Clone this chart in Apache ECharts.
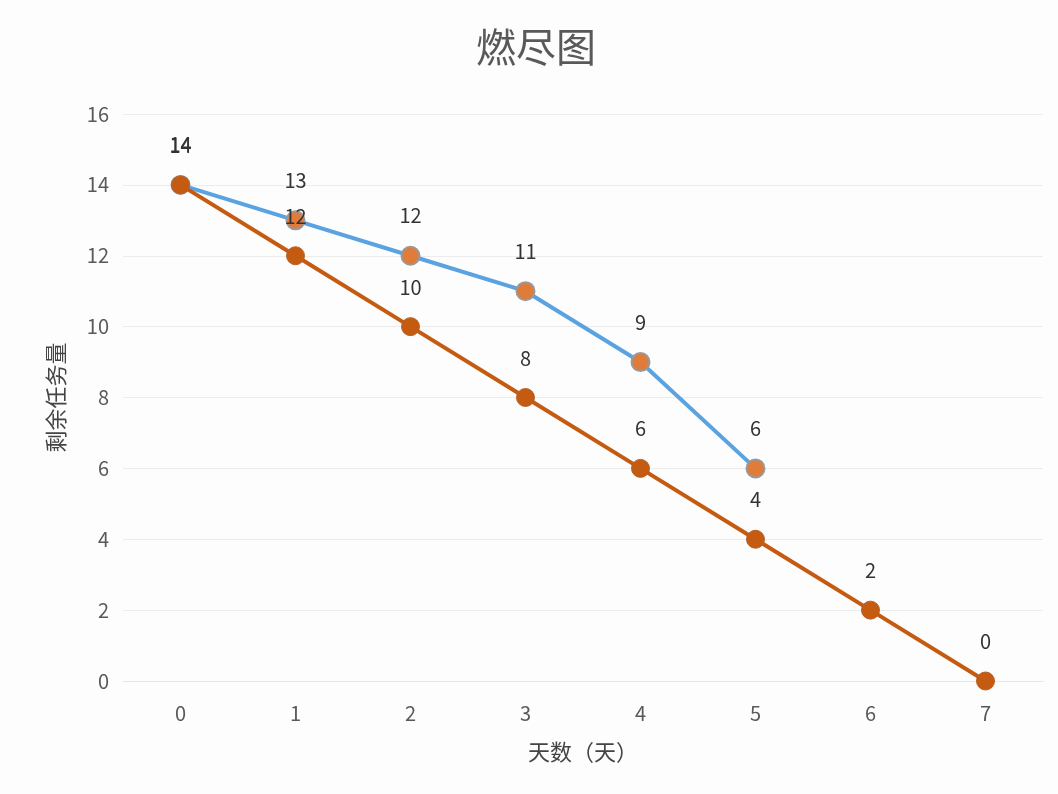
<!DOCTYPE html>
<html>
<head>
<meta charset="utf-8">
<script src="https://cdn.jsdelivr.net/npm/echarts@6/dist/echarts.min.js"></script>
<style>
html, body { margin: 0; padding: 0; background: #fdfdfd; }
#main { width: 1058px; height: 794px; }
</style>
</head>
<body>
<div id="main"></div>
<script>
var days = ['0', '1', '2', '3', '4', '5', '6', '7'];
var actual = [14, 13, 12, 11, 9, 6];
var ideal = [14, 12, 10, 8, 6, 4, 2, 0];
var yTicks = [0, 2, 4, 6, 8, 10, 12, 14, 16];

var chart = echarts.init(document.getElementById('main'));
var labelStyle = {
  show: true,
  position: 'top',
  distance: 20,
  color: '#333',
  fontSize: 20,
  fontFamily: 'Noto Sans CJK SC'
};
chart.setOption({
  backgroundColor: '#fdfdfd',
  title: {
    text: '燃尽图',
    left: 471,
    top: 22,
    textStyle: { fontSize: 40, fontWeight: 'normal', color: '#595959', fontFamily: 'Noto Sans CJK SC' }
  },
  grid: { left: 123, right: 15, top: 114, bottom: 113 },
  xAxis: {
    type: 'category',
    data: days,
    name: '天数（天）',
    nameLocation: 'middle',
    nameGap: 60,
    nameTextStyle: { fontSize: 22, color: '#444', fontFamily: 'Noto Sans CJK SC' },
    axisLine: { lineStyle: { color: '#e6e6e6' } },
    axisTick: { show: false },
    axisLabel: { fontSize: 20, color: '#595959', margin: 22, fontFamily: 'Noto Sans CJK SC' }
  },
  yAxis: {
    type: 'value',
    min: yTicks[0],
    max: yTicks[yTicks.length - 1],
    interval: 2,
    name: '剩余任务量',
    nameLocation: 'middle',
    nameGap: 56,
    nameRotate: 90,
    nameTextStyle: { fontSize: 22, color: '#444', fontFamily: 'Noto Sans CJK SC' },
    axisLine: { show: false },
    axisTick: { show: false },
    axisLabel: { fontSize: 20, color: '#595959', margin: 14, fontFamily: 'Noto Sans CJK SC' },
    splitLine: { lineStyle: { color: '#ececec' } }
  },
  series: [
    {
      name: '实际',
      type: 'line',
      data: actual,
      symbol: 'circle',
      symbolSize: 18,
      lineStyle: { color: '#5ba3e0', width: 4 },
      itemStyle: { color: '#e07b39', borderColor: '#999', borderWidth: 2 },
      label: labelStyle,
      z: 2
    },
    {
      name: '理想',
      type: 'line',
      data: ideal,
      symbol: 'circle',
      symbolSize: 18,
      lineStyle: { color: '#c55a11', width: 4 },
      itemStyle: { color: '#c55a11', borderColor: '#b5612a', borderWidth: 1 },
      label: labelStyle,
      z: 3
    }
  ]
});
</script>
</body>
</html>
